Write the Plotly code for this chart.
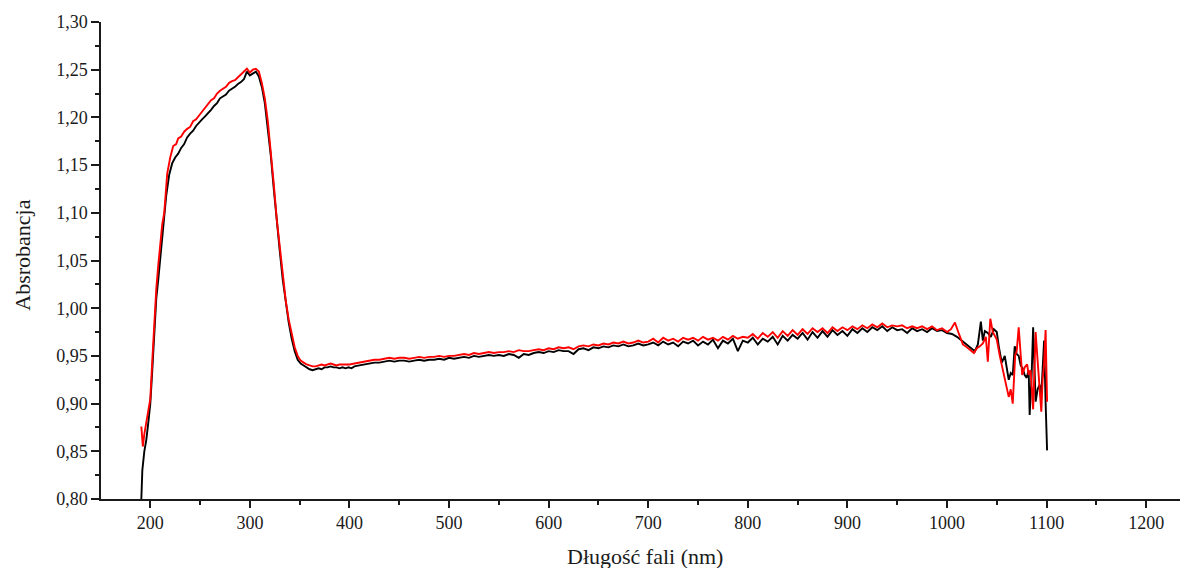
import plotly.graph_objects as go

# Black series (wavelength nm, absorbance)
black_x = [191, 192, 194, 196, 198, 200, 202, 204, 206, 208, 210, 213, 216, 219, 222, 225, 228, 231, 234, 237,
           240, 243, 246, 249, 252, 255, 258, 261, 264, 267, 270, 273, 276, 279, 282, 285, 288, 291, 294, 297,
           300, 303, 306, 309, 312, 315, 318, 321, 324, 327, 330, 333, 336, 339, 342, 345, 348, 351, 354, 357,
           360, 363, 366, 369, 372, 375, 378, 381, 384, 387, 390, 393, 396, 399, 402, 405, 410, 415, 420, 425,
           430, 435, 440, 445, 450, 455, 460, 465, 470, 475, 480, 485, 490, 495, 500, 505, 510, 515, 520, 525,
           530, 535, 540, 545, 550, 555, 560, 565, 570, 575, 580, 585, 590, 595, 600, 605, 610, 615, 620, 625,
           630, 635, 640, 645, 650, 655, 660, 665, 670, 675, 680, 685, 690, 695, 700, 705, 710, 715, 720, 725,
           730, 735, 740, 745, 750, 755, 760, 765, 770, 775, 780, 785, 790, 795, 800, 805, 810, 815, 820, 825,
           830, 835, 840, 845, 850, 855, 860, 865, 870, 875, 880, 885, 890, 895, 900, 905, 910, 915, 920, 925,
           930, 935, 940, 945, 950, 955, 960, 965, 970, 975, 980, 985, 990, 995, 1000, 1005, 1010, 1015, 1020, 1025,
           1028, 1031, 1034, 1036, 1038, 1041, 1044, 1047, 1050, 1052, 1055, 1058, 1060, 1062, 1064, 1066, 1068, 1070,
           1072, 1074, 1076, 1078, 1080, 1082, 1083, 1085, 1086.5, 1088, 1089, 1091, 1093, 1094.5, 1096, 1097.5,
           1099, 1100.5]
black_y = [0.800, 0.830, 0.850, 0.862, 0.880, 0.900, 0.935, 0.975, 1.010, 1.030, 1.055, 1.085, 1.118, 1.140, 1.152,
           1.158, 1.162, 1.168, 1.172, 1.179, 1.183, 1.186, 1.191, 1.195, 1.198, 1.201, 1.204, 1.208, 1.212, 1.215,
           1.220, 1.222, 1.224, 1.228, 1.230, 1.232, 1.235, 1.237, 1.240, 1.248, 1.244, 1.246, 1.248, 1.243, 1.232,
           1.215, 1.190, 1.160, 1.125, 1.090, 1.060, 1.030, 1.005, 0.985, 0.968, 0.955, 0.946, 0.942, 0.940, 0.938,
           0.936, 0.935, 0.936, 0.937, 0.936, 0.938, 0.938, 0.939, 0.938, 0.938, 0.937, 0.938, 0.937, 0.938, 0.937,
           0.939, 0.940, 0.941, 0.942, 0.943, 0.943, 0.944, 0.945, 0.944, 0.945, 0.945, 0.944, 0.945, 0.946, 0.945,
           0.946, 0.946, 0.947, 0.946, 0.948, 0.947, 0.948, 0.949, 0.948, 0.950, 0.949, 0.950, 0.951, 0.950, 0.951,
           0.950, 0.952, 0.951, 0.948, 0.952, 0.951, 0.953, 0.954, 0.953, 0.955, 0.954, 0.956, 0.955, 0.955, 0.952,
           0.957, 0.958, 0.956, 0.959, 0.958, 0.960, 0.959, 0.961, 0.960, 0.962, 0.960, 0.961, 0.963, 0.961, 0.962,
           0.964, 0.961, 0.965, 0.962, 0.964, 0.960, 0.965, 0.963, 0.966, 0.961, 0.965, 0.962, 0.967, 0.958, 0.966,
           0.963, 0.968, 0.955, 0.966, 0.964, 0.969, 0.962, 0.968, 0.965, 0.970, 0.962, 0.971, 0.966, 0.972, 0.968,
           0.974, 0.967, 0.975, 0.969, 0.976, 0.970, 0.977, 0.972, 0.976, 0.971, 0.978, 0.974, 0.979, 0.975, 0.980,
           0.977, 0.981, 0.976, 0.980, 0.977, 0.978, 0.974, 0.979, 0.976, 0.978, 0.975, 0.979, 0.976, 0.977, 0.974,
           0.973, 0.970, 0.966, 0.962, 0.958, 0.955, 0.962, 0.986, 0.966, 0.976, 0.974, 0.970, 0.978, 0.975, 0.960,
           0.943, 0.950, 0.935, 0.925, 0.932, 0.930, 0.960, 0.952, 0.950, 0.940, 0.937, 0.930, 0.927, 0.935, 0.888,
           0.930, 0.980, 0.940, 0.902, 0.915, 0.920, 0.905, 0.935, 0.966, 0.902, 0.851]

# Red series
red_x = [191, 192.5, 194, 196, 198, 200, 202, 204, 206, 208, 210, 212, 214, 217, 220, 223, 226, 228, 231, 234,
         237, 240, 243, 246, 249, 252, 255, 258, 261, 264, 267, 270, 273, 276, 279, 282, 285, 288, 291, 294,
         297, 300, 303, 306, 309, 312, 315, 318, 321, 324, 327, 330, 333, 336, 339, 342, 345, 348, 351, 354,
         357, 360, 363, 366, 369, 372, 375, 378, 381, 384, 387, 390, 395, 400, 405, 410, 415, 420, 425, 430,
         435, 440, 445, 450, 455, 460, 465, 470, 475, 480, 485, 490, 495, 500, 505, 510, 515, 520, 525, 530,
         535, 540, 545, 550, 555, 560, 565, 570, 575, 580, 585, 590, 595, 600, 605, 610, 615, 620, 625, 630,
         635, 640, 645, 650, 655, 660, 665, 670, 675, 680, 685, 690, 695, 700, 705, 710, 715, 720, 725, 730,
         735, 740, 745, 750, 755, 760, 765, 770, 775, 780, 785, 790, 795, 800, 805, 810, 815, 820, 825, 830,
         835, 840, 845, 850, 855, 860, 865, 870, 875, 880, 885, 890, 895, 900, 905, 910, 915, 920, 925, 930,
         935, 940, 945, 950, 955, 960, 965, 970, 975, 980, 985, 990, 995, 1000, 1004, 1008, 1012, 1016, 1020,
         1024, 1027, 1030, 1033, 1036, 1039, 1041, 1043.5, 1046, 1048, 1050, 1053, 1055, 1058, 1060, 1062, 1064,
         1066, 1068.5, 1070, 1072, 1074, 1075.5, 1078, 1080.5, 1082, 1084, 1086.5, 1088, 1089, 1091, 1092,
         1094.7, 1096, 1097.5, 1099, 1100.5]
red_y = [0.876, 0.855, 0.868, 0.880, 0.890, 0.905, 0.945, 0.985, 1.020, 1.045, 1.068, 1.088, 1.100, 1.141, 1.158,
         1.170, 1.172, 1.178, 1.180, 1.185, 1.188, 1.190, 1.196, 1.198, 1.202, 1.206, 1.210, 1.214, 1.218, 1.220,
         1.225, 1.228, 1.230, 1.232, 1.236, 1.238, 1.239, 1.242, 1.244, 1.247, 1.251, 1.247, 1.250, 1.251, 1.248,
         1.236, 1.220, 1.196, 1.165, 1.130, 1.093, 1.063, 1.034, 1.008, 0.988, 0.972, 0.959, 0.950, 0.945, 0.943,
         0.941, 0.940, 0.939, 0.939, 0.940, 0.941, 0.940, 0.941, 0.942, 0.941, 0.940, 0.941, 0.941, 0.941, 0.942,
         0.943, 0.944, 0.945, 0.946, 0.946, 0.947, 0.948, 0.947, 0.948, 0.948, 0.947, 0.948, 0.949, 0.948, 0.949,
         0.949, 0.950, 0.949, 0.950, 0.950, 0.951, 0.952, 0.951, 0.953, 0.952, 0.953, 0.954, 0.953, 0.954, 0.954,
         0.955, 0.954, 0.956, 0.955, 0.955, 0.956, 0.957, 0.956, 0.958, 0.957, 0.959, 0.958, 0.959, 0.957, 0.960,
         0.961, 0.960, 0.962, 0.961, 0.963, 0.962, 0.964, 0.963, 0.965, 0.963, 0.964, 0.966, 0.964, 0.965, 0.968,
         0.964, 0.969, 0.966, 0.968, 0.965, 0.969, 0.967, 0.969, 0.966, 0.970, 0.967, 0.969, 0.966, 0.970, 0.967,
         0.971, 0.968, 0.970, 0.969, 0.973, 0.968, 0.974, 0.970, 0.975, 0.969, 0.976, 0.971, 0.977, 0.972, 0.978,
         0.973, 0.979, 0.975, 0.979, 0.974, 0.980, 0.976, 0.980, 0.977, 0.981, 0.978, 0.982, 0.979, 0.983, 0.980,
         0.984, 0.980, 0.982, 0.981, 0.982, 0.979, 0.981, 0.979, 0.981, 0.978, 0.981, 0.977, 0.979, 0.975, 0.978,
         0.985, 0.973, 0.962, 0.959, 0.955, 0.953, 0.958, 0.960, 0.963, 0.970, 0.944, 0.989, 0.975, 0.970, 0.967,
         0.950, 0.941, 0.925, 0.915, 0.907, 0.915, 0.900, 0.951, 0.955, 0.980, 0.950, 0.930, 0.938, 0.941, 0.930,
         0.935, 0.894, 0.940, 0.975, 0.945, 0.930, 0.8915, 0.925, 0.941, 0.977, 0.902]

x_ticks = [200, 300, 400, 500, 600, 700, 800, 900, 1000, 1100, 1200]
y_ticks = [0.80, 0.85, 0.90, 0.95, 1.00, 1.05, 1.10, 1.15, 1.20, 1.25, 1.30]

FONT = "Liberation Serif, Times New Roman, serif"
INK = "#1a1a1a"

fig = go.Figure()
fig.add_trace(go.Scatter(x=black_x, y=black_y, mode="lines",
                         line=dict(color="#000000", width=1.9), showlegend=False))
fig.add_trace(go.Scatter(x=red_x, y=red_y, mode="lines",
                         line=dict(color="#ff0000", width=1.9), showlegend=False))

# The page body has an 8 px margin, so the figure is 8 px smaller than the window.
fig.update_layout(
    width=1180, height=560,
    margin=dict(l=93, r=0, t=14, b=69),
    paper_bgcolor="white", plot_bgcolor="white",
    separators=", ",
    font=dict(family=FONT, size=18, color=INK),
    xaxis=dict(range=[150.5, 1242], tickvals=x_ticks, ticks="outside", ticklen=7, tickwidth=1.5,
               tickcolor=INK, showline=True, linecolor=INK, linewidth=1.5,
               showgrid=False, zeroline=False,
               minor=dict(dtick=50, tick0=0, ticks="outside", ticklen=4, tickwidth=1.5, tickcolor=INK),
               tickfont=dict(family=FONT, size=18, color=INK)),
    yaxis=dict(range=[0.80, 1.30], tickvals=y_ticks, tickformat=".2f", ticks="outside", ticklen=8,
               tickwidth=1.5, tickcolor=INK, showline=True, linecolor=INK, linewidth=1.5,
               showgrid=False, zeroline=False,
               minor=dict(dtick=0.025, tick0=0.8, ticks="outside", ticklen=4, tickwidth=1.5, tickcolor=INK),
               tickfont=dict(family=FONT, size=18, color=INK)),
    annotations=[
        dict(text="Długość fali (nm)", xref="paper", yref="paper", x=0.5, y=0, yshift=-57,
             xanchor="center", yanchor="middle", showarrow=False, font=dict(family=FONT, size=22, color=INK)),
        dict(text="Absrobancja", xref="paper", yref="paper", x=0, xshift=-78, y=0.51, textangle=-90,
             xanchor="center", yanchor="middle", showarrow=False, font=dict(family=FONT, size=22, color=INK)),
    ],
)

fig.write_html("out.html")
